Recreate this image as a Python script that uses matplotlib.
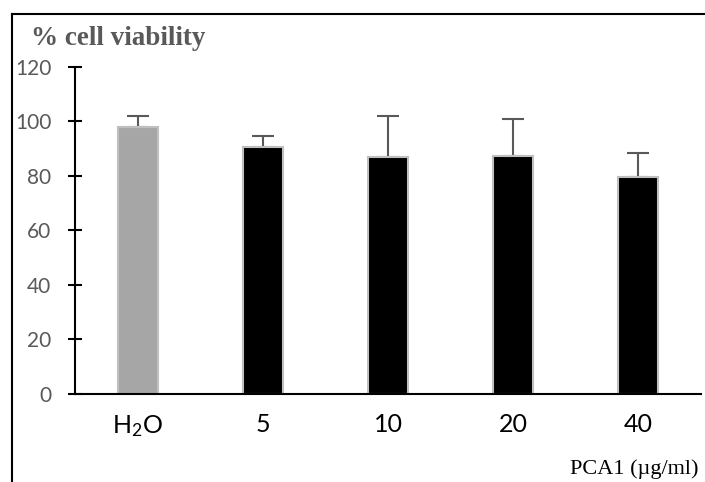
import matplotlib
matplotlib.use("Agg")
import matplotlib.pyplot as plt
from matplotlib.lines import Line2D

# cell viability after PCA1 treatment
groups = ["H$_2$O", "5", "10", "20", "40"]
viability = [98, 90.5, 87, 87.3, 79.5]
sd = [4, 4, 15, 13.5, 9]
colors = ["#a6a6a6", "black", "black", "black", "black"]
yticks = [0, 20, 40, 60, 80, 100, 120]

plt.rcParams["mathtext.fontset"] = "custom"
plt.rcParams["mathtext.rm"] = "Lato"
plt.rcParams["mathtext.it"] = "Lato"

fig = plt.figure(figsize=(7.05, 4.82), dpi=100)
ax = fig.add_axes([0.1064, 0.1826, 0.8879, 0.6784])

x = range(len(groups))
ax.bar(x, viability, width=0.32, color=colors, edgecolor="#bfbfbf", linewidth=1.5, zorder=2)
# upper error only, lower cap hidden behind the bar
ax.errorbar(x, viability, yerr=[[0] * len(sd), sd], fmt="none", ecolor="#595959",
            elinewidth=1.5, capsize=8, capthick=1.5, zorder=1)

ax.set_xlim(-0.5, 4.5)
ax.set_ylim(0, 120)
ax.set_yticks(yticks)
ax.set_xticks(list(x))
ax.set_xticklabels(groups, fontsize=18, fontfamily="Lato", color="black")
ax.tick_params(axis="x", length=0, pad=14)
ax.tick_params(axis="y", direction="inout", length=10, width=1.5, pad=12,
               labelsize=15, labelcolor="#595959")
for lab in ax.get_yticklabels():
    lab.set_fontfamily("Lato")

for s in ["top", "right"]:
    ax.spines[s].set_visible(False)
for s in ["left", "bottom"]:
    ax.spines[s].set_linewidth(1.5)

fig.text(31 / 705, 1 - 45 / 482, "% cell viability", fontsize=19.5, fontweight="bold",
         fontfamily="Liberation Serif", color="#595959", va="baseline", ha="left")
fig.text(698 / 705, 1 - 474 / 482, "PCA1 (\u00b5g/ml)", fontsize=16,
         fontfamily="Liberation Serif", color="black", va="baseline", ha="right")

# frame around the figure (top and left only)
fig.add_artist(Line2D([12 / 705, 1], [1 - 14 / 482, 1 - 14 / 482], color="black", lw=1.5,
                      transform=fig.transFigure))
fig.add_artist(Line2D([12 / 705, 12 / 705], [0, 1 - 14 / 482], color="black", lw=1.5,
                      transform=fig.transFigure))

fig.savefig("out.png", dpi=100)
